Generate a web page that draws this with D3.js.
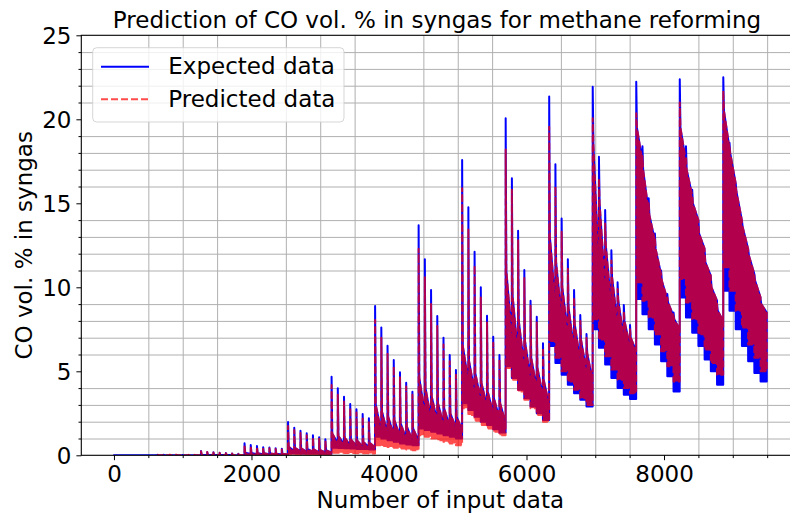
<!DOCTYPE html>
<html>
<head>
<meta charset="utf-8">
<script src="https://cdn.jsdelivr.net/npm/d3@7"></script>
<style>
	body { margin: 0; background: #fff; }
	svg { display: block; font-family: "DejaVu Sans", sans-serif; }
</style>
</head>
<body>
<div id="co-chart"></div>
<script>
// Each block is one sweep of 633 samples, made of 7 decaying spikes.
const blockStarts = [0, 633, 1266, 1899, 2532, 3165, 3798, 4431, 5064, 5697, 6330, 6963, 7596, 8229, 8862];
const blockLength = 633;
const spikesPerBlock = 7;
const firstDrop = 10; // samples from a spike's peak to the first drop

// peak of each spike (CO vol. %), expected data
const expPeaks = [
	[0, 0, 0, 0, 0, 0, 0],
	[0.03, 0.03, 0.02, 0.02, 0.02, 0.02, 0.02],
	[0.26, 0.2, 0.18, 0.15, 0.13, 0.11, 0.09],
	[0.71, 0.61, 0.55, 0.48, 0.46, 0.42, 0.39],
	[1.98, 1.64, 1.46, 1.31, 1.19, 1.07, 0.95],
	[4.68, 3.99, 3.49, 3.05, 2.74, 2.46, 2.2],
	[8.89, 7.6, 6.52, 5.67, 4.94, 4.32, 3.79],
	[13.7, 11.67, 9.84, 8.29, 7.0, 5.97, 5.08],
	[17.58, 14.76, 12.12, 10.0, 8.31, 7.06, 5.97],
	[20.06, 16.49, 13.37, 11.03, 9.2, 8.25, 6.67],
	[21.35, 17.32, 14.1, 11.67, 9.84, 8.35, 7.22],
	[21.94, 17.77, 14.6, 12.2, 10.3, 8.95, 7.76],
	[22.24, 18.4, 15.3, 13.2, 11.0, 9.6, 8.5],
	[22.38, 18.4, 15.8, 14.0, 12.2, 10.6, 9.0],
	[22.5, 18.6, 16.2, 14.0, 12.3, 10.8, 9.3]
];

// peak of each spike, predicted data (block 0 sits under the axis)
const predPeaks = [
	null,
	[0.06, 0.05, 0.04, 0.04, 0.03, 0.03, 0.03],
	[0.24, 0.2, 0.17, 0.15, 0.12, 0.1, 0.08],
	[0.62, 0.55, 0.5, 0.44, 0.42, 0.38, 0.35],
	[1.75, 1.5, 1.33, 1.2, 1.08, 0.98, 0.88],
	[4.18, 3.6, 3.2, 2.85, 2.55, 2.3, 2.05],
	[8.05, 7.0, 6.1, 5.3, 4.65, 4.1, 3.6],
	[12.3, 10.6, 9.0, 7.7, 6.6, 5.6, 4.8],
	[15.9, 13.5, 11.3, 9.4, 7.9, 6.7, 5.7],
	[18.2, 15.8, 12.8, 10.6, 8.9, 7.9, 6.4],
	[19.56, 16.0, 13.3, 11.1, 9.4, 8.0, 7.0],
	[20.06, 16.5, 13.8, 11.6, 9.9, 8.6, 7.5],
	[20.36, 17.8, 15.0, 12.9, 10.8, 9.4, 8.3],
	[21.0, 17.8, 15.5, 13.7, 12.0, 10.4, 8.8],
	[21.7, 18.4, 16.0, 13.8, 12.1, 10.6, 9.1]
];

// upper envelope just after the first drop of each spike (both series)
const mids = [
	[0, 0, 0, 0, 0, 0, 0],
	[0.01, 0.01, 0.01, 0.01, 0.01, 0.01, 0.01],
	[0.04, 0.04, 0.03, 0.03, 0.03, 0.02, 0.02],
	[0.15, 0.14, 0.13, 0.12, 0.11, 0.1, 0.09],
	[0.5, 0.45, 0.42, 0.38, 0.35, 0.32, 0.3],
	[1.3, 1.15, 1.05, 0.95, 0.88, 0.8, 0.75],
	[3.0, 2.6, 2.3, 2.1, 1.9, 1.7, 1.6],
	[4.6, 4.0, 3.5, 3.1, 2.8, 2.5, 2.3],
	[6.5, 5.6, 4.9, 4.3, 3.8, 3.4, 3.1],
	[11.0, 9.5, 8.0, 6.8, 5.8, 5.2, 4.5],
	[13.0, 11.5, 10.0, 8.8, 7.8, 6.9, 6.1],
	[18.5, 15.0, 12.5, 10.6, 9.2, 8.0, 7.0],
	[19.5, 17.0, 14.3, 12.3, 10.4, 9.1, 8.1],
	[19.5, 17.0, 15.0, 13.2, 11.5, 10.0, 8.6],
	[20.5, 18.0, 15.7, 13.6, 11.9, 10.4, 9.0]
];

// upper envelope at the end of each spike (both series)
const tails = [
	[0, 0, 0, 0, 0, 0, 0],
	[0, 0, 0, 0, 0, 0, 0],
	[0.02, 0.02, 0.02, 0.02, 0.01, 0.01, 0.01],
	[0.08, 0.07, 0.07, 0.06, 0.06, 0.05, 0.05],
	[0.25, 0.23, 0.21, 0.2, 0.18, 0.17, 0.16],
	[0.7, 0.65, 0.6, 0.56, 0.52, 0.5, 0.48],
	[1.4, 1.3, 1.2, 1.1, 1.0, 0.9, 0.85],
	[2.5, 2.2, 2.0, 1.85, 1.7, 1.6, 1.5],
	[4.4, 3.8, 3.3, 2.9, 2.5, 2.2, 1.9],
	[7.0, 6.0, 5.2, 4.5, 4.0, 3.5, 3.0],
	[9.0, 8.2, 7.2, 6.3, 5.6, 5.0, 4.4],
	[11.0, 10.0, 8.8, 7.8, 7.0, 6.5, 6.2],
	[17.5, 14.5, 12.8, 10.8, 9.3, 8.3, 7.5],
	[17.5, 15.5, 14.0, 12.3, 10.7, 9.2, 8.0],
	[18.3, 16.2, 14.0, 12.3, 10.8, 9.4, 8.5]
];

// lowest value inside each spike, expected data
const expFloors = [
	[0, 0, 0, 0, 0, 0, 0],
	[0, 0, 0, 0, 0, 0, 0],
	[0.01, 0.01, 0.01, 0.01, 0.01, 0.01, 0.01],
	[0.04, 0.04, 0.04, 0.04, 0.04, 0.04, 0.04],
	[0.12, 0.12, 0.11, 0.1, 0.1, 0.09, 0.09],
	[0.45, 0.43, 0.42, 0.4, 0.38, 0.37, 0.35],
	[1.1, 1.0, 0.9, 0.8, 0.7, 0.65, 0.6],
	[1.6, 1.5, 1.4, 1.3, 1.2, 1.1, 1.0],
	[3.1, 2.7, 2.3, 2.0, 1.8, 1.55, 1.35],
	[5.3, 4.6, 3.9, 3.4, 2.9, 2.5, 2.1],
	[6.5, 5.5, 4.8, 4.2, 3.7, 3.3, 2.9],
	[7.5, 6.4, 5.4, 4.6, 4.0, 3.6, 3.35],
	[9.3, 8.4, 7.5, 6.6, 5.6, 4.7, 3.8],
	[9.4, 8.2, 7.3, 6.5, 5.7, 5.0, 4.2],
	[9.8, 8.6, 7.5, 6.5, 5.6, 4.9, 4.4]
];

// lowest value inside each spike, predicted data
const predFloors = [
	null,
	[-0.05, -0.05, -0.05, -0.05, -0.05, -0.05, -0.05],
	[-0.05, -0.05, -0.05, -0.05, -0.05, -0.05, -0.05],
	[0, 0, 0, 0, 0, 0, 0],
	[0.03, 0.03, 0.03, 0.02, 0.02, 0.02, 0.02],
	[0.15, 0.15, 0.14, 0.13, 0.12, 0.12, 0.11],
	[0.6, 0.55, 0.5, 0.45, 0.4, 0.35, 0.3],
	[1.2, 1.1, 1.0, 0.9, 0.8, 0.7, 0.6],
	[2.8, 2.4, 2.05, 1.8, 1.6, 1.4, 1.2],
	[5.2, 4.5, 3.8, 3.3, 2.8, 2.4, 2.0],
	[6.8, 5.8, 5.0, 4.4, 3.9, 3.4, 3.0],
	[8.1, 6.9, 5.9, 5.1, 4.5, 4.0, 3.7],
	[10.3, 9.2, 8.2, 7.2, 6.2, 5.3, 4.4],
	[10.5, 9.1, 8.1, 7.2, 6.3, 5.5, 4.8],
	[11.2, 9.8, 8.6, 7.6, 6.6, 5.8, 5.0]
];

const xTicks = [0, 2000, 4000, 6000, 8000];
const xMinor = [500, 1000, 1500, 2500, 3000, 3500, 4500, 5000, 5500, 6500, 7000, 7500, 8500, 9000, 9500];
const yTicks = [0, 5, 10, 15, 20, 25];
const yMinor = [1, 2, 3, 4, 6, 7, 8, 9, 11, 12, 13, 14, 16, 17, 18, 19, 21, 22, 23, 24];

const seriesNames = ["Expected data", "Predicted data"];
const titleText = "Prediction of CO vol. % in syngas for methane reforming";
const xLabel = "Number of input data";
const yLabel = "CO vol. % in syngas";

createChart();

function createChart() {
	const width = 790;
	const height = 517;
	const fontSize = "23px";
	const majorLen = 4.9, minorLen = 2.8, pad = 4.9;
	const blue = "#0000ff", red = "#ff0000";

	const x = d3.scaleLinear()
		.domain([-475, 9969])
		.range([81.3, 799.4]);
	const y = d3.scaleLinear()
		.domain([0, 25])
		.range([455.3, 35.3]);

	const left = x.range()[0], right = x.range()[1];
	const top = y.range()[1], bottom = y.range()[0];

	const svg = d3.select("#co-chart")
		.append("svg")
		.attr("width", width)
		.attr("height", height);

	svg.append("clipPath")
		.attr("id", "plot-clip")
		.append("rect")
		.attr("x", left)
		.attr("y", top)
		.attr("width", right - left)
		.attr("height", bottom - top);

	// minor grid only (the original has no lines on the major ticks)
	svg.append("g")
		.attr("transform", "translate(0," + bottom + ")")
		.call(d3.axisBottom(x).tickValues(xMinor).tickSize(-(bottom - top)).tickFormat(""))
		.call(g => g.select(".domain").remove())
		.call(g => g.selectAll("line").attr("stroke", "#b0b0b0").attr("stroke-width", 1));

	svg.append("g")
		.attr("transform", "translate(" + left + ",0)")
		.call(d3.axisLeft(y).tickValues(yMinor).tickSize(-(right - left)).tickFormat(""))
		.call(g => g.select(".domain").remove())
		.call(g => g.selectAll("line").attr("stroke", "#b0b0b0").attr("stroke-width", 1));

	// turn the per-spike values into area points
	function buildSeries(peaks, floors) {
		let pts = [];
		const seg = blockLength / spikesPerBlock;
		blockStarts.forEach((start, b) => {
			if (!peaks[b]) return;
			peaks[b].forEach((p, k) => {
				const s = start + k * seg;
				pts.push({x: s, top: p, low: floors[b][k]});
				pts.push({x: s + firstDrop, top: mids[b][k], low: floors[b][k]});
				pts.push({x: s + seg - 1, top: tails[b][k], low: floors[b][k]});
			});
		});
		return pts;
	}

	const area = d3.area()
		.x(d => x(d.x))
		.y0(d => y(d.low))
		.y1(d => y(d.top));

	const plot = svg.append("g")
		.attr("clip-path", "url(#plot-clip)");

	plot.append("path")
		.attr("d", area(buildSeries(expPeaks, expFloors)))
		.attr("fill", blue)
		.attr("stroke", blue)
		.attr("stroke-width", 2)
		.attr("stroke-linejoin", "round");

	plot.append("path")
		.attr("d", area(buildSeries(predPeaks, predFloors)))
		.attr("fill", red)
		.attr("stroke", red)
		.attr("stroke-width", 2)
		.attr("stroke-dasharray", "7,3")
		.attr("stroke-linejoin", "round")
		.attr("opacity", 0.7);

	// spines
	const spines = svg.append("g")
		.attr("stroke", "#000")
		.attr("stroke-width", 1.1)
		.attr("fill", "none");
	spines.append("rect")
		.attr("x", left)
		.attr("y", top)
		.attr("width", right - left)
		.attr("height", bottom - top);

	// x axis: major then minor ticks
	svg.append("g")
		.attr("transform", "translate(0," + bottom + ")")
		.style("font", fontSize + " 'DejaVu Sans'")
		.call(d3.axisBottom(x).tickValues(xTicks).tickSize(majorLen).tickPadding(pad).tickFormat(d3.format("d")))
		.call(g => g.select(".domain").remove())
		.call(g => g.selectAll("text").attr("fill", "#000").attr("dy", "0.73em"));

	svg.append("g")
		.attr("transform", "translate(0," + bottom + ")")
		.call(d3.axisBottom(x).tickValues(xMinor).tickSize(minorLen).tickFormat(""))
		.call(g => g.select(".domain").remove());

	// y axis
	svg.append("g")
		.attr("transform", "translate(" + left + ",0)")
		.style("font", fontSize + " 'DejaVu Sans'")
		.call(d3.axisLeft(y).tickValues(yTicks).tickSize(majorLen).tickPadding(pad).tickFormat(d3.format("d")))
		.call(g => g.select(".domain").remove())
		.call(g => g.selectAll("text").attr("fill", "#000").attr("dy", "0.36em"));

	svg.append("g")
		.attr("transform", "translate(" + left + ",0)")
		.call(d3.axisLeft(y).tickValues(yMinor).tickSize(minorLen).tickFormat(""))
		.call(g => g.select(".domain").remove());

	// title and axis labels
	svg.append("text")
		.attr("x", 437)
		.attr("y", 27.5)
		.attr("text-anchor", "middle")
		.style("font-size", fontSize)
		.text(titleText);

	svg.append("text")
		.attr("x", (left + right) / 2)
		.attr("y", 508)
		.attr("text-anchor", "middle")
		.style("font-size", fontSize)
		.text(xLabel);

	svg.append("text")
		.attr("transform", "translate(32," + (top + bottom) / 2 + ") rotate(-90)")
		.attr("text-anchor", "middle")
		.style("font-size", fontSize)
		.text(yLabel);

	// legend
	const legend = svg.append("g");
	legend.append("rect")
		.attr("x", 92.7)
		.attr("y", 47.7)
		.attr("width", 251.3)
		.attr("height", 74.3)
		.attr("rx", 4)
		.attr("fill", "#fff")
		.attr("fill-opacity", 0.8)
		.attr("stroke", "#cccccc")
		.attr("stroke-opacity", 0.8);

	const entries = legend.selectAll("g.entry")
		.data(seriesNames)
		.enter()
		.append("g")
		.attr("class", "entry")
		.attr("transform", (d, i) => "translate(0," + (66.7 + i * 32.6) + ")");

	entries.append("line")
		.attr("x1", 101)
		.attr("x2", 149)
		.attr("stroke", (d, i) => i == 0 ? blue : red)
		.attr("stroke-width", 2)
		.attr("stroke-dasharray", (d, i) => i == 0 ? null : "7,3")
		.attr("opacity", (d, i) => i == 0 ? 1 : 0.7);

	entries.append("text")
		.attr("x", 168.3)
		.attr("y", 7.6)
		.style("font-size", fontSize)
		.text(d => d);
}
</script>
</body>
</html>
